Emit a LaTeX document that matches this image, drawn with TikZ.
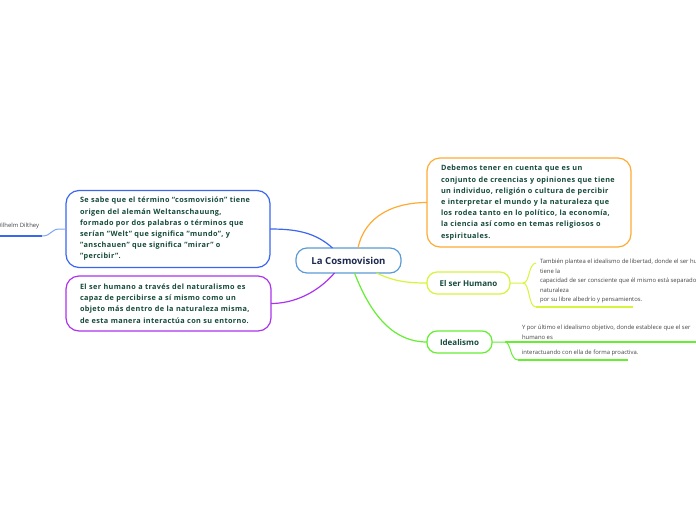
\documentclass[tikz,border=0pt]{standalone}
\usepackage{fontspec}
\setmainfont{Open Sans}
\usetikzlibrary{positioning}
\definecolor{txtgreen}{HTML}{164A3C}
\definecolor{txtnavy}{HTML}{1C2A4E}
\definecolor{subgray}{HTML}{444444}
\definecolor{rootblue}{HTML}{5B9BD5}
\definecolor{cblue}{HTML}{3A66F0}
\definecolor{lblue}{HTML}{7FA6F2}
\definecolor{cpurple}{HTML}{AA33EE}
\definecolor{corange}{HTML}{FFAA33}
\definecolor{clime}{HTML}{D4F53C}
\definecolor{cgreen}{HTML}{66EE33}

\begin{document}
\begin{tikzpicture}[x=1pt,y=-1pt,inner sep=0pt,outer sep=0pt,line width=1.2pt,
rootbox/.style={draw=rootblue,rectangle,rounded corners=11pt,fill=white,minimum width=105pt,minimum height=25pt,font=\bfseries\fontsize{9.6}{11}\selectfont,text=txtnavy},
bigbox/.style={draw,rectangle,rounded corners=13pt,fill=white,inner xsep=14pt,align=left,font=\bfseries\fontsize{7.3}{11.2}\selectfont\addfontfeatures{LetterSpace=5},text=txtgreen},
smallbox/.style={draw,rectangle,rounded corners=10pt,fill=white,minimum height=22pt,font=\bfseries\fontsize{8}{10}\selectfont,text=txtgreen},
subtext/.style={anchor=north west,align=left,font=\fontsize{5.9}{9.6}\selectfont,text=subgray}]
\useasboundingbox (0,0) rectangle (696,520);

% branches
\draw (348.5,260.5) node[rootbox] (root) {La Cosmovision};
\draw (168,229) node[bigbox,draw=cblue,text width=176pt,minimum height=77pt] (sabe) {Se sabe que el término “cosmovisión” tiene\\origen del alemán Weltanschauung,\\formado por dos palabras o términos que\\serían "Welt" que significa "mundo", y\\"anschauen" que significa "mirar" o\\"percibir".};
\draw (168.5,303.5) node[bigbox,draw=cpurple,text width=177pt,minimum height=55pt] (natural) {El ser humano a través del naturalismo es\\capaz de percibirse a sí mismo como un\\objeto más dentro de la naturaleza misma,\\de esta manera interactúa con su entorno.};
\draw (529,202.5) node[bigbox,draw=corange,text width=176pt,minimum height=89pt] (debemos) {Debemos tener en cuenta que es un\\conjunto de creencias y opiniones que tiene\\un individuo, religión o cultura de percibir\\e interpretar el mundo y la naturaleza que\\los rodea tanto en lo político, la economía,\\la ciencia así como en temas religiosos o\\espirituales.};
\draw (468.5,283) node[smallbox,draw=clime,minimum width=83pt] (ser) {El ser Humano};
\draw (459.5,342) node[smallbox,draw=cgreen,minimum width=65pt] (ideal) {Idealismo};

\draw[cblue] ([xshift=-16]root.north) .. controls (315,232) and (295,229) .. (sabe.east);
\draw[cpurple] ([xshift=-14]root.south) .. controls (318,292) and (295,303.5) .. (natural.east);
\draw[corange] ([xshift=9.5]root.north) .. controls (365,215) and (395,202.5) .. (debemos.west);
\draw[clime] ([xshift=28]root.south) .. controls (395,282) and (410,283) .. (ser.west);
\draw[cgreen] ([xshift=6]root.south) .. controls (372,318) and (395,342) .. (ideal.west);

% subtopics
\draw (-4,226) node[subtext,anchor=west] (dilthey) {Wilhelm Dilthey};
\coordinate (diltheyend) at (42,236);
\draw[cblue,line width=1.5pt] (0,236) -- (diltheyend);
\draw[lblue,line width=1pt] (diltheyend) .. controls (52,236) and (50,229) .. (60,229) -- (sabe.west);

\draw (540,259) node[subtext] (libertad) {También plantea el idealismo de libertad, donde el ser humano\\tiene la\\capacidad de ser consciente que él mismo está separado de la\\naturaleza\\por su libre albedrío y pensamientos.};
\coordinate (serfork) at (523,283);
\coordinate (libtop) at (536,263);
\coordinate (libline) at (536,307);
\draw[clime,line width=1pt] (ser.east) -- (serfork) .. controls (530,283) and (528,264) .. (libtop);
\draw[clime,line width=1pt] (serfork) .. controls (530,283) and (528,307) .. (libline);
\draw[clime,line width=1.5pt] (libline) -- (633,307);

\draw (522,325) node[subtext] (objetivo) {Y por último el idealismo objetivo, donde establece que el ser\\humano es};
\draw (522,350) node[subtext] (proactiva) {interactuando con ella de forma proactiva.};
\coordinate (idealfork) at (505,342);
\coordinate (objline) at (517,342);
\coordinate (proline) at (518,360);
\draw[cgreen,line width=1pt] (ideal.east) -- (idealfork) .. controls (511,342) and (510,360) .. (proline);
\draw[cgreen,line width=1.5pt] (idealfork) -- (objline) -- (700,342);
\draw[cgreen,line width=1.5pt] (proline) -- (628,360);

\end{tikzpicture}
\end{document}
